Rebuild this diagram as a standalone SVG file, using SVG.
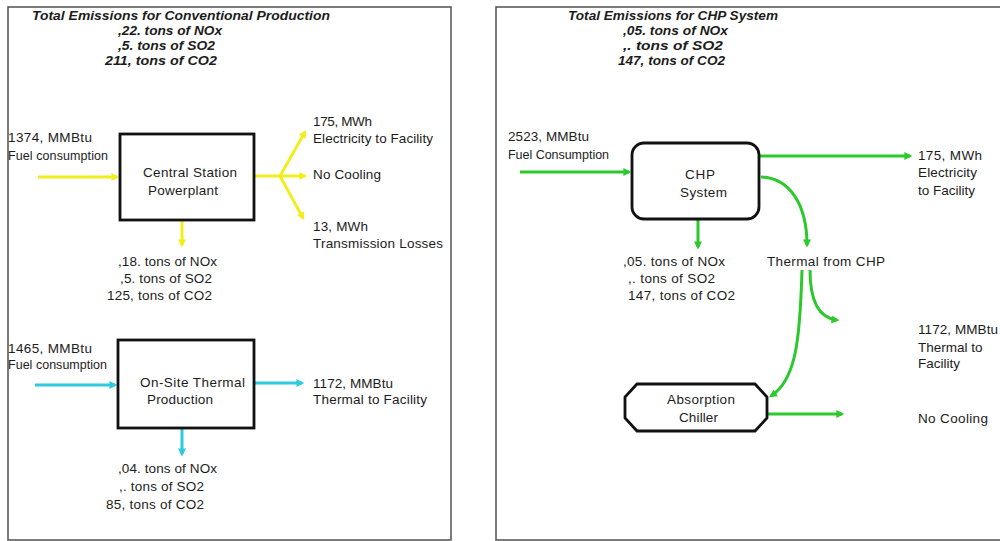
<svg xmlns="http://www.w3.org/2000/svg" width="1000" height="541" viewBox="0 0 1000 541">
  <defs>
    <style>
      text { font-family: "Liberation Sans", Arial, sans-serif; font-size: 13.5px; fill: #1c1c1c; }
      .title { font-weight: bold; font-style: italic; font-size: 13px; }
      .small { font-size: 12.5px; }
      .mid { text-anchor: middle; }
      .panel { fill: #ffffff; stroke: #5a5a5a; stroke-width: 1.6; }
      .box { fill: #ffffff; stroke: #111111; stroke-width: 2.8; }
      .flow { fill: none; stroke-width: 3; stroke-linecap: butt; }
      .yellow { stroke: #f2ee1e; }
      .cyan { stroke: #2fcadc; }
      .green { stroke: #2cc92c; }
    </style>
    <marker id="ah-yellow" viewBox="0 0 10 10" refX="7" refY="5" markerUnits="userSpaceOnUse" markerWidth="9" markerHeight="8" orient="auto">
      <path d="M0,0 L10,5 L0,10 z" fill="#f2ee1e"/>
    </marker>
    <marker id="ah-cyan" viewBox="0 0 10 10" refX="7" refY="5" markerUnits="userSpaceOnUse" markerWidth="9" markerHeight="8" orient="auto">
      <path d="M0,0 L10,5 L0,10 z" fill="#2fcadc"/>
    </marker>
    <marker id="ah-green" viewBox="0 0 10 10" refX="7" refY="5" markerUnits="userSpaceOnUse" markerWidth="9" markerHeight="8" orient="auto">
      <path d="M0,0 L10,5 L0,10 z" fill="#2cc92c"/>
    </marker>
  </defs>

  <rect width="1000" height="541" fill="#ffffff"/>

  <!-- Conventional production panel -->
  <g id="panel-conventional">
    <rect class="panel" x="8" y="7" width="443" height="533"/>
    <text class="title" x="32" y="20" textLength="298" lengthAdjust="spacingAndGlyphs">Total Emissions for Conventional Production</text>
    <text class="title" x="118" y="35" textLength="104" lengthAdjust="spacingAndGlyphs">,22. tons of NOx</text>
    <text class="title" x="118" y="50" textLength="97" lengthAdjust="spacingAndGlyphs">,5. tons of SO2</text>
    <text class="title" x="105" y="65" textLength="112" lengthAdjust="spacingAndGlyphs">211, tons of CO2</text>
  </g>

  <!-- CHP panel -->
  <g id="panel-chp">
    <rect class="panel" x="496" y="7" width="520" height="533"/>
    <text class="title" x="568" y="20" textLength="210" lengthAdjust="spacingAndGlyphs">Total Emissions for CHP System</text>
    <text class="title" x="623" y="35" textLength="105" lengthAdjust="spacingAndGlyphs">,05. tons of NOx</text>
    <text class="title" x="623" y="50" textLength="100" lengthAdjust="spacingAndGlyphs">,. tons of SO2</text>
    <text class="title" x="618" y="65" textLength="107" lengthAdjust="spacingAndGlyphs">147, tons of CO2</text>
  </g>

  <!-- Connectors -->
  <g id="connectors">
    <!-- central station -->
    <path class="flow yellow" d="M38 177 L117 177" marker-end="url(#ah-yellow)"/>
    <path class="flow yellow" d="M254 176 L280 176"/>
    <path class="flow yellow" d="M280 176 L305 132" marker-end="url(#ah-yellow)"/>
    <path class="flow yellow" d="M280 176 L305 176" marker-end="url(#ah-yellow)"/>
    <path class="flow yellow" d="M280 176 L303 218" marker-end="url(#ah-yellow)"/>
    <path class="flow yellow" d="M182 220 L182 245" marker-end="url(#ah-yellow)"/>
    <!-- on-site thermal -->
    <path class="flow cyan" d="M35 385 L115 385" marker-end="url(#ah-cyan)"/>
    <path class="flow cyan" d="M254 383 L302 383" marker-end="url(#ah-cyan)"/>
    <path class="flow cyan" d="M182 428 L182 454" marker-end="url(#ah-cyan)"/>
    <!-- CHP -->
    <path class="flow green" d="M520 172 L629 172" marker-end="url(#ah-green)"/>
    <path class="flow green" d="M760 156 L910 156" marker-end="url(#ah-green)"/>
    <path class="flow green" d="M698 219 L698 247" marker-end="url(#ah-green)"/>
    <path class="flow green" d="M761 177 C790 178 807 205 807 245" marker-end="url(#ah-green)"/>
    <path class="flow green" d="M802 270 C800 340 796 380 771 396" marker-end="url(#ah-green)"/>
    <path class="flow green" d="M810 270 C810 300 818 318 837 320" marker-end="url(#ah-green)"/>
    <path class="flow green" d="M767 414 L842 414" marker-end="url(#ah-green)"/>
  </g>

  <!-- Central station powerplant -->
  <g id="central-station">
    <rect class="box" x="120" y="134" width="134" height="86"/>
    <text x="143" y="177" textLength="94">Central Station</text>
    <text x="148" y="195" textLength="70">Powerplant</text>
  </g>
  <g id="central-fuel">
    <text x="8" y="142" textLength="84">1374, MMBtu</text>
    <text class="small" x="8" y="160" textLength="100">Fuel consumption</text>
  </g>
  <g id="central-electricity">
    <text x="313" y="126" textLength="59">175, MWh</text>
    <text x="313" y="143" textLength="120">Electricity to Facility</text>
  </g>
  <g id="central-cooling">
    <text x="313" y="179" textLength="68">No Cooling</text>
  </g>
  <g id="central-losses">
    <text x="313" y="231" textLength="55">13, MWh</text>
    <text x="313" y="248" textLength="130">Transmission Losses</text>
  </g>
  <g id="central-emissions">
    <text x="118" y="266" textLength="99">,18. tons of NOx</text>
    <text x="120" y="283" textLength="92">,5. tons of SO2</text>
    <text x="107" y="300" textLength="105">125, tons of CO2</text>
  </g>

  <!-- On-site thermal production -->
  <g id="onsite-thermal">
    <rect class="box" x="118" y="340" width="136" height="88"/>
    <text x="140" y="387" textLength="105">On-Site Thermal</text>
    <text x="147" y="404" textLength="66">Production</text>
  </g>
  <g id="onsite-fuel">
    <text x="8" y="353" textLength="84">1465, MMBtu</text>
    <text class="small" x="8" y="369" textLength="99">Fuel consumption</text>
  </g>
  <g id="onsite-output">
    <text x="313" y="388" textLength="80">1172, MMBtu</text>
    <text x="313" y="404" textLength="114">Thermal to Facility</text>
  </g>
  <g id="onsite-emissions">
    <text x="118" y="473" textLength="99">,04. tons of NOx</text>
    <text x="119" y="491" textLength="85">,. tons of SO2</text>
    <text x="106" y="509" textLength="98">85, tons of CO2</text>
  </g>

  <!-- CHP system -->
  <g id="chp-system">
    <rect class="box" x="632" y="143" width="127" height="76" rx="12" ry="12"/>
    <text x="685" y="179" textLength="30">CHP</text>
    <text x="680" y="197" textLength="47">System</text>
  </g>
  <g id="chp-fuel">
    <text x="508" y="141" textLength="81">2523, MMBtu</text>
    <text class="small" x="508" y="159" textLength="101">Fuel Consumption</text>
  </g>
  <g id="chp-electricity">
    <text x="918" y="160" textLength="64">175, MWh</text>
    <text x="918" y="177" textLength="59">Electricity</text>
    <text x="918" y="195" textLength="57">to Facility</text>
  </g>
  <g id="chp-emissions">
    <text x="623" y="266" textLength="102">,05. tons of NOx</text>
    <text x="628" y="283" textLength="87">,. tons of SO2</text>
    <text x="628" y="300" textLength="107">147, tons of CO2</text>
  </g>
  <g id="chp-thermal">
    <text x="767" y="266" textLength="118">Thermal from CHP</text>
  </g>
  <g id="chp-thermal-facility">
    <text x="918" y="334" textLength="80">1172, MMBtu</text>
    <text x="918" y="352">Thermal to</text>
    <text x="918" y="368">Facility</text>
  </g>
  <g id="absorption-chiller">
    <polygon class="box" points="637,384 755,384 767,397 767,418 755,431 637,431 625,418 625,397"/>
    <text x="667" y="404" textLength="68">Absorption</text>
    <text x="679" y="422" textLength="39">Chiller</text>
  </g>
  <g id="chp-cooling">
    <text x="918" y="423" textLength="70">No Cooling</text>
  </g>
</svg>
